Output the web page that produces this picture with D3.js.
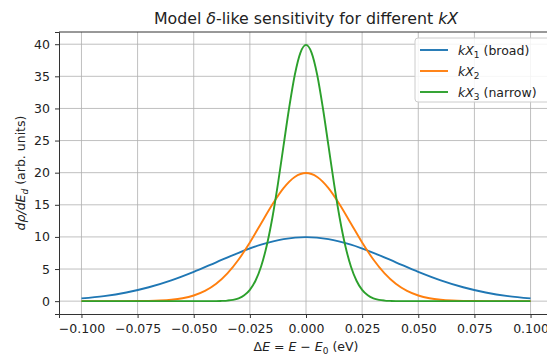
<!DOCTYPE html>
<html>
<head>
<meta charset="utf-8">
<script src="https://cdn.jsdelivr.net/npm/d3@7"></script>
<style>
  body { margin: 0; background: #fff; }
  svg { font-family: "DejaVu Sans", sans-serif; }
</style>
</head>
<body>
<svg id="chart" width="547" height="355"></svg>
<script>
// values
const blueX = [-0.1, -0.09, -0.08, -0.07, -0.06, -0.05, -0.04, -0.03, -0.02, -0.01, 0,
  0.01, 0.02, 0.03, 0.04, 0.05, 0.06, 0.07, 0.08, 0.09, 0.1];
const blueY = [0.44, 0.79, 1.35, 2.16, 3.24, 4.56, 6.05, 7.53, 8.80, 9.66, 9.97,
  9.66, 8.80, 7.53, 6.05, 4.56, 3.24, 2.16, 1.35, 0.79, 0.44];

const orangeX = [-0.1, -0.08, -0.075, -0.07, -0.065, -0.06, -0.055, -0.05, -0.045, -0.04, -0.035,
  -0.03, -0.025, -0.02, -0.015, -0.01, -0.005, 0, 0.005, 0.01, 0.015, 0.02, 0.025, 0.03,
  0.035, 0.04, 0.045, 0.05, 0.055, 0.06, 0.065, 0.07, 0.075, 0.08, 0.1];
const orangeY = [0, 0.01, 0.02, 0.04, 0.10, 0.22, 0.45, 0.88, 1.59, 2.70, 4.32,
  6.48, 9.13, 12.10, 15.06, 17.61, 19.34, 19.95, 19.34, 17.61, 15.06, 12.10, 9.13, 6.48,
  4.32, 2.70, 1.59, 0.88, 0.45, 0.22, 0.10, 0.04, 0.02, 0.01, 0];

const greenX = [-0.1, -0.04, -0.0375, -0.035, -0.0325, -0.03, -0.0275, -0.025, -0.0225, -0.02,
  -0.0175, -0.015, -0.0125, -0.01, -0.0075, -0.005, -0.0025, 0, 0.0025, 0.005, 0.0075, 0.01,
  0.0125, 0.015, 0.0175, 0.02, 0.0225, 0.025, 0.0275, 0.03, 0.0325, 0.035, 0.0375, 0.04, 0.1];
const greenY = [0, 0.01, 0.04, 0.09, 0.20, 0.44, 0.91, 1.75, 3.18, 5.40,
  8.63, 12.95, 18.26, 24.20, 30.11, 35.21, 38.66, 39.89, 38.66, 35.21, 30.11, 24.20,
  18.26, 12.95, 8.63, 5.40, 3.18, 1.75, 0.91, 0.44, 0.20, 0.09, 0.04, 0.01, 0];

const xTicks = [-0.1, -0.075, -0.05, -0.025, 0, 0.025, 0.05, 0.075, 0.1];
const yTicks = [0, 5, 10, 15, 20, 25, 30, 35, 40];

const colors = ["#1f77b4", "#ff7f0e", "#2ca02c"];

const svg = d3.select("#chart");
const pLeft = 59, pRight = 553, pTop = 32, pBottom = 314;

const x = d3.scaleLinear().domain([-0.11, 0.11]).range([pLeft, pRight]);
const y = d3.scaleLinear().domain([-2, 41.9]).range([pBottom, pTop]);

// grid
svg.append("g")
    .selectAll("line")
    .data(xTicks)
    .enter()
    .append("line")
    .attr("x1", d => x(d)).attr("x2", d => x(d))
    .attr("y1", pTop).attr("y2", pBottom)
    .attr("stroke", "#b0b0b0").attr("stroke-width", 0.8);
svg.append("g")
    .selectAll("line")
    .data(yTicks)
    .enter()
    .append("line")
    .attr("x1", pLeft).attr("x2", pRight)
    .attr("y1", d => y(d)).attr("y2", d => y(d))
    .attr("stroke", "#b0b0b0").attr("stroke-width", 0.8);

// curves
const series = [
    { xs: blueX, ys: blueY },
    { xs: orangeX, ys: orangeY },
    { xs: greenX, ys: greenY }
];
const line = d3.line()
    .x(d => x(d[0]))
    .y(d => y(d[1]))
    .curve(d3.curveMonotoneX);

series.forEach((s, i) => {
    svg.append("path")
        .datum(s.xs.map((v, j) => [v, s.ys[j]]))
        .attr("d", line)
        .attr("fill", "none")
        .attr("stroke", colors[i])
        .attr("stroke-width", 1.9);
});

// axes
const fmt = d => d3.format(".3f")(d).replace("-", "\u2212");
const xAxis = svg.append("g")
    .attr("transform", `translate(0,${pBottom})`)
    .call(d3.axisBottom(x).tickValues(xTicks).tickFormat(fmt).tickSize(4).tickPadding(6));
const yAxis = svg.append("g")
    .attr("transform", `translate(${pLeft},0)`)
    .call(d3.axisLeft(y).tickValues(yTicks).tickSize(4).tickPadding(5));

[xAxis, yAxis].forEach(a => {
    a.select(".domain").attr("stroke", "#333").attr("stroke-width", 1);
    a.selectAll(".tick line").attr("stroke", "#333");
    a.selectAll(".tick text").attr("fill", "#222")
        .style("font-size", "12.5px").style("font-family", "DejaVu Sans");
});
// top spine
svg.append("line")
    .attr("x1", pLeft).attr("x2", pRight).attr("y1", pTop).attr("y2", pTop)
    .attr("stroke", "#333");

// title
const title = svg.append("text")
    .attr("x", 306).attr("y", 24)
    .attr("text-anchor", "middle")
    .attr("fill", "#222")
    .style("font-size", "15.8px");
title.append("tspan").text("Model ");
title.append("tspan").style("font-style", "italic").text("\u03b4");
title.append("tspan").text("-like sensitivity for different ");
title.append("tspan").style("font-style", "italic").text("kX");

// x label
const xl = svg.append("text")
    .attr("x", 306).attr("y", 351)
    .attr("text-anchor", "middle")
    .attr("fill", "#222")
    .style("font-size", "12.5px");
xl.append("tspan").text("\u0394");
xl.append("tspan").style("font-style", "italic").text("E");
xl.append("tspan").text(" = ");
xl.append("tspan").style("font-style", "italic").text("E");
xl.append("tspan").text(" \u2212 ");
xl.append("tspan").style("font-style", "italic").text("E");
xl.append("tspan").attr("dy", 3).style("font-size", "9px").text("0");
xl.append("tspan").attr("dy", -3).text(" (eV)");

// y label
const yl = svg.append("text")
    .attr("transform", `translate(25,${(pTop + pBottom) / 2}) rotate(-90)`)
    .attr("text-anchor", "middle")
    .attr("fill", "#222")
    .style("font-size", "12.5px");
yl.append("tspan").style("font-style", "italic").text("d\u03c1/dE");
yl.append("tspan").attr("dy", 3).style("font-style", "italic").style("font-size", "9px").text("d");
yl.append("tspan").attr("dy", -3).text(" (arb. units)");

// legend
const lg = svg.append("g");
lg.append("rect")
    .attr("x", 415).attr("y", 38).attr("width", 140).attr("height", 64)
    .attr("rx", 3)
    .attr("fill", "#fff").attr("fill-opacity", 0.85)
    .attr("stroke", "#ccc");
const legendLabels = [["kX", "1", " (broad)"], ["kX", "2", ""], ["kX", "3", " (narrow)"]];
legendLabels.forEach((lab, i) => {
    const ly = 50 + i * 21;
    lg.append("line")
        .attr("x1", 420).attr("x2", 448).attr("y1", ly).attr("y2", ly)
        .attr("stroke", colors[i]).attr("stroke-width", 1.9);
    const t = lg.append("text")
        .attr("x", 458).attr("y", ly + 4.5)
        .attr("fill", "#222")
        .style("font-size", "12.5px");
    t.append("tspan").style("font-style", "italic").text(lab[0]);
    t.append("tspan").attr("dy", 3).style("font-size", "9px").text(lab[1]);
    t.append("tspan").attr("dy", -3).text(lab[2]);
});
</script>
</body>
</html>
